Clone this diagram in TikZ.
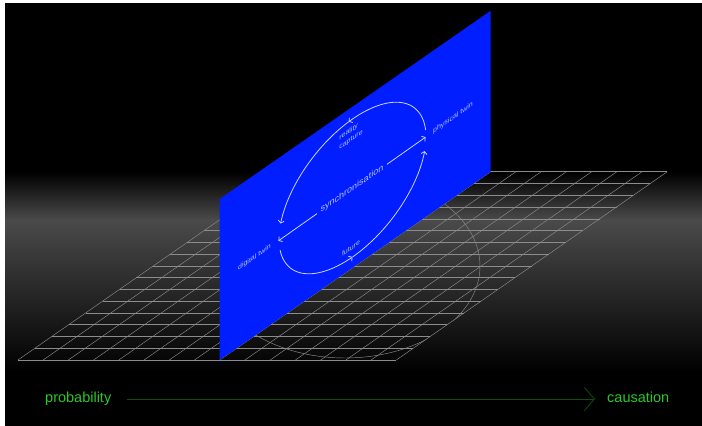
\documentclass[tikz,border=0pt]{standalone}
\usepackage{fontspec}
\setmainfont{Liberation Sans}
\usepackage{tikz}
\usetikzlibrary{arrows.meta, positioning}

\definecolor{planeblue}{RGB}{0,30,255}
\definecolor{planeink}{RGB}{205,210,255}
\definecolor{planetext}{RGB}{180,190,255}
\definecolor{gridgray}{RGB}{140,140,140}
\definecolor{bandgray}{RGB}{74,74,74}
\definecolor{axisgreen}{RGB}{40,200,40}
\definecolor{axisdark}{RGB}{10,80,10}

\begin{document}
\begin{tikzpicture}[x=1pt, y=-1pt,
    gridline/.style={draw=gridgray, line width=0.45pt},
    plane/.style={fill=planeblue},
    loopline/.style={draw=planeink, line width=0.8pt},
    looptip/.style={-{Straight Barb[length=2.5pt, width=6pt]}},
    twinlabel/.style={text=planetext, font=\fontsize{7}{9.2}\selectfont, yslant=0.694, inner sep=0pt, align=left},
    synclabel/.style={text=planetext, font=\fontsize{9}{10}\selectfont, yslant=0.694, fill=planeblue, inner xsep=3.5pt, inner ysep=1pt},
    axislabel/.style={text=axisgreen, font=\fontsize{14.5}{16}\selectfont, inner sep=0pt, text height=10pt, text depth=3pt},
    axisline/.style={draw=axisdark, line width=0.8pt},
]
% background and light band
\useasboundingbox (0,0) rectangle (702,426);
\fill[white] (0,0) rectangle (702,426);
\fill[black] (5,3) rectangle (702,426);
\shade[top color=black, bottom color=bandgray] (5,172) rectangle (702,220);
\shade[top color=bandgray, bottom color=black] (5,220) rectangle (702,372);

% ground grid
\foreach \i in {0,...,15}
  \draw[gridline] ({17.9+25.23*\i},360) -- ++(271,-188.3);
\foreach \j in {0,...,16}
  \draw[gridline] ({17.9+16.94*\j},{360-11.77*\j}) -- ++(378.4,0);
\begin{scope}
  \clip (17.9,360) -- (396.3,360) -- (667.3,171.7) -- (288.9,171.7) -- cycle;
  \draw[gridline] plot[domain=-50:140, samples=80, variable=\t] ({345+135*cos(\t)},{266+92*sin(\t)});
\end{scope}

% upright plane
\fill[plane] (219.7,360) -- (490.7,171.7) -- (490.7,10.7) -- (219.7,199) -- cycle;

% loop
\draw[loopline, looptip] plot[domain=6:93, samples=40, variable=\t] ({352.5+73.5*cos(\t)},{188-51*cos(\t)-69*sin(\t)});
\draw[loopline, looptip] plot[domain=93:168, samples=40, variable=\t] ({352.5+73.5*cos(\t)},{188-51*cos(\t)-69*sin(\t)});
\draw[loopline, looptip] plot[domain=190:270, samples=40, variable=\t] ({352.5+73.5*cos(\t)},{188-51*cos(\t)-69*sin(\t)});
\draw[loopline, looptip] plot[domain=270:349, samples=40, variable=\t] ({352.5+73.5*cos(\t)},{188-51*cos(\t)-69*sin(\t)});

\node[twinlabel] (dtwin) at (254.5,257.5) {digital twin};
\node[twinlabel] (ptwin) at (453,118) {physical twin};
\node[twinlabel] (reality) at (351,135) {reality\\capture};
\node[twinlabel] (future) at (351,248) {future};

\draw[loopline, {Straight Barb[length=2.5pt, width=6pt]}-{Straight Barb[length=2.5pt, width=6pt]}, shorten <=9pt, shorten >=9pt]
  (dtwin.east) -- (ptwin.west) node[midway, synclabel] (sync) {synchronisation};

% axis
\node[axislabel, anchor=base west] (prob) at (45,402.5) {probability};
\node[axislabel, anchor=base west] (caus) at (607,402.5) {causation};
\draw[axisline, -{Straight Barb[length=10pt, width=23pt]}, shorten <=16pt, shorten >=12pt] (prob) -- (caus);
\end{tikzpicture}
\end{document}
